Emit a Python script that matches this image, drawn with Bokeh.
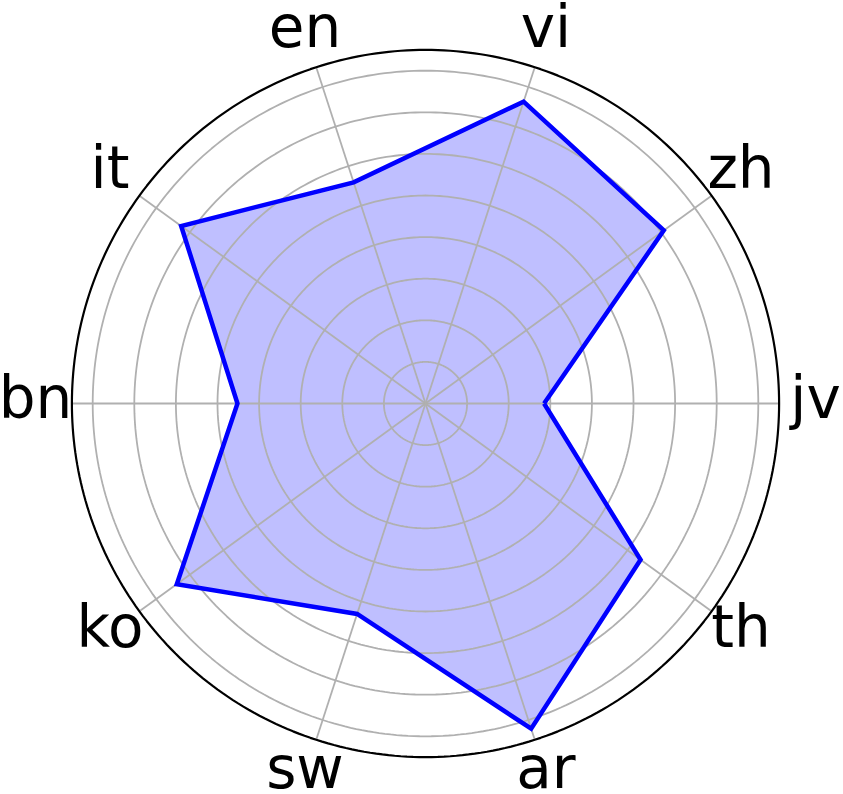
import numpy as np
from bokeh.plotting import figure
from bokeh.models import Range1d, ColumnDataSource
from bokeh.core.properties import value
from bokeh.embed import file_html
from bokeh.resources import INLINE

# Data
categories = ["jv", "zh", "vi", "en", "it", "bn", "ko", "sw", "ar", "th"]
scores = [28.5, 70.8, 76.3, 55.9, 72.6, 45.2, 73.9, 53.2, 82.2, 63.9]
grid_levels = [10, 20, 30, 40, 50, 60, 70, 80]
r_max = 85

W, H = 843, 794
cx, cy = 425, 403          # centre in pixels
s = 353.6 / r_max          # pixels per value unit

p = figure(width=W, height=H, output_backend="svg", toolbar_location=None,
           x_axis_type=None, y_axis_type=None, min_border=0,
           x_range=Range1d(-cx / s, (W - cx) / s),
           y_range=Range1d(-(H - cy) / s, cy / s),
           background_fill_color="white", border_fill_color="white")
p.outline_line_color = None
p.grid.visible = False

n = len(categories)
ang = np.arange(n) * 2 * np.pi / n
vals = np.array(scores, dtype=float)
px = vals * np.cos(ang)
py = vals * np.sin(ang)
px_c = np.append(px, px[0])
py_c = np.append(py, py[0])

# filled area
p.patch(px_c, py_c, fill_color="blue", fill_alpha=0.25, line_color=None)

# grid circles
t = np.linspace(0, 2 * np.pi, 361)
for g in grid_levels:
    p.line(g * np.cos(t), g * np.sin(t), line_color="#b0b0b0", line_width=1.8)
# spokes
for a in ang:
    p.line([0, r_max * np.cos(a)], [0, r_max * np.sin(a)], line_color="#b0b0b0", line_width=1.8)

# polygon outline
p.line(px_c, py_c, line_color="blue", line_width=4.5, line_join="miter")

# outer spine
p.line(r_max * np.cos(t), r_max * np.sin(t), line_color="black", line_width=2.2)

# category labels
lab_r = 390 / s
src = ColumnDataSource(dict(x=lab_r * np.cos(ang), y=lab_r * np.sin(ang), t=categories))
p.text(x="x", y="y", text="t", source=src, text_align="center", text_baseline="middle",
       y_offset=-6,
       text_font=value("DejaVu Sans"), text_font_size="58px", text_color="black")

open("out.html", "w").write(file_html(p, INLINE))
